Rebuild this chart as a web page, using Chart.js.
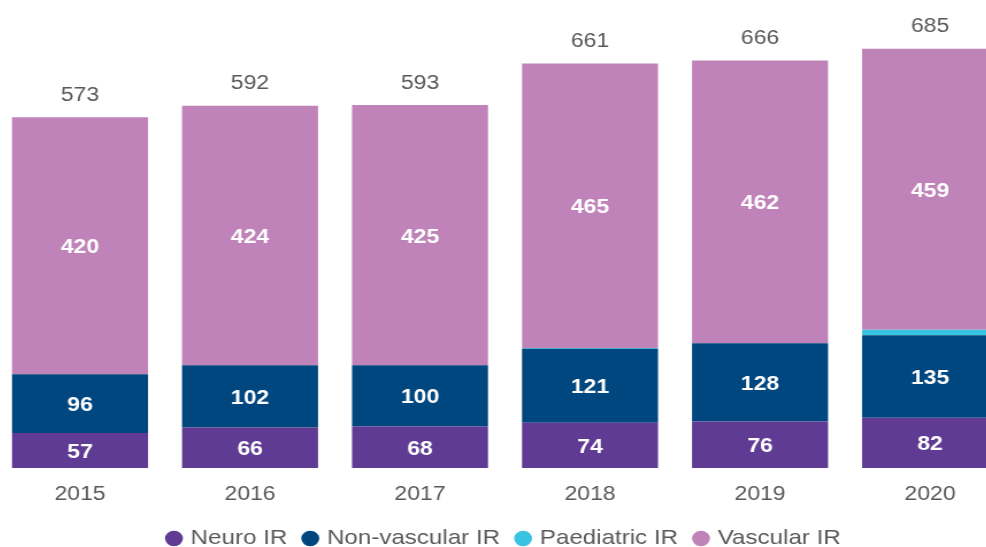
<!DOCTYPE html>
<html>
<head>
<meta charset="utf-8">
<script src="https://cdn.jsdelivr.net/npm/chart.js@4/dist/chart.umd.min.js"></script>
<style>
	html, body { margin: 0; padding: 0; background: #fff; overflow: hidden; width: 986px; height: 547px; }
	/* o gráfico original é um pouco esticado na horizontal */
	#wrap { position: absolute; left: -5px; top: 0; width: 887px; height: 559px; transform: scaleX(1.15); transform-origin: 0 0; }
</style>
</head>
<body>
<div id="wrap"><canvas id="grafico"></canvas></div>
<script>
const anos = ['2015', '2016', '2017', '2018', '2019', '2020'];
const neuro = [57, 66, 68, 74, 76, 82];
const naoVascular = [96, 102, 100, 121, 128, 135];
const pediatrico = [0, 0, 0, 1, 0, 9];
const vascular = [420, 424, 425, 465, 462, 459];

const cinza = '#595959';
const fonte = "'Liberation Sans', Arial, sans-serif";

// rótulos dentro dos segmentos e total acima da barra
const rotulos = {
	id: 'rotulos',
	afterDatasetsDraw(chart) {
		const ctx = chart.ctx;
		ctx.save();
		ctx.textAlign = 'center';
		ctx.textBaseline = 'middle';
		chart.data.datasets.forEach(function (ds, i) {
			if (ds.label === 'Paediatric IR') return;
			const meta = chart.getDatasetMeta(i);
			meta.data.forEach(function (bar, j) {
				ctx.font = 'bold 20px ' + fonte;
				ctx.fillStyle = '#ffffff';
				ctx.fillText(ds.data[j], bar.x, (bar.y + bar.base) / 2 + 2);
			});
		});
		const ultimo = chart.getDatasetMeta(chart.data.datasets.length - 1);
		ultimo.data.forEach(function (bar, j) {
			const total = neuro[j] + naoVascular[j] + pediatrico[j] + vascular[j];
			ctx.font = '20px ' + fonte;
			ctx.fillStyle = cinza;
			ctx.fillText(total, bar.x, bar.y - 22);
		});
		ctx.restore();
	}
};

new Chart(document.getElementById('grafico'), {
	type: 'bar',
	data: {
		labels: anos,
		datasets: [
			{ label: 'Neuro IR', data: neuro, backgroundColor: '#5f3b93' },
			{ label: 'Non-vascular IR', data: naoVascular, backgroundColor: '#00467f' },
			{ label: 'Paediatric IR', data: pediatrico, backgroundColor: '#38c3e2' },
			{ label: 'Vascular IR', data: vascular, backgroundColor: '#bf83b9' }
		]
	},
	options: {
		responsive: true,
		maintainAspectRatio: false,
		animation: false,
		barPercentage: 0.8,
		categoryPercentage: 1,
		layout: { padding: { top: 9, left: 0, right: 0, bottom: 0 } },
		scales: {
			x: {
				stacked: true,
				grid: { display: false },
				border: { display: false },
				ticks: { color: cinza, font: { size: 20, family: fonte }, padding: 6 }
			},
			y: {
				stacked: true,
				display: false,
				min: 0,
				max: 750
			}
		},
		plugins: {
			legend: {
				position: 'bottom',
				labels: {
					usePointStyle: true,
					pointStyle: 'circle',
					boxWidth: 8,
					boxHeight: 11,
					padding: 16,
					color: cinza,
					font: { size: 21, family: fonte }
				}
			},
			tooltip: { enabled: false }
		}
	},
	plugins: [rotulos]
});
</script>
</body>
</html>
